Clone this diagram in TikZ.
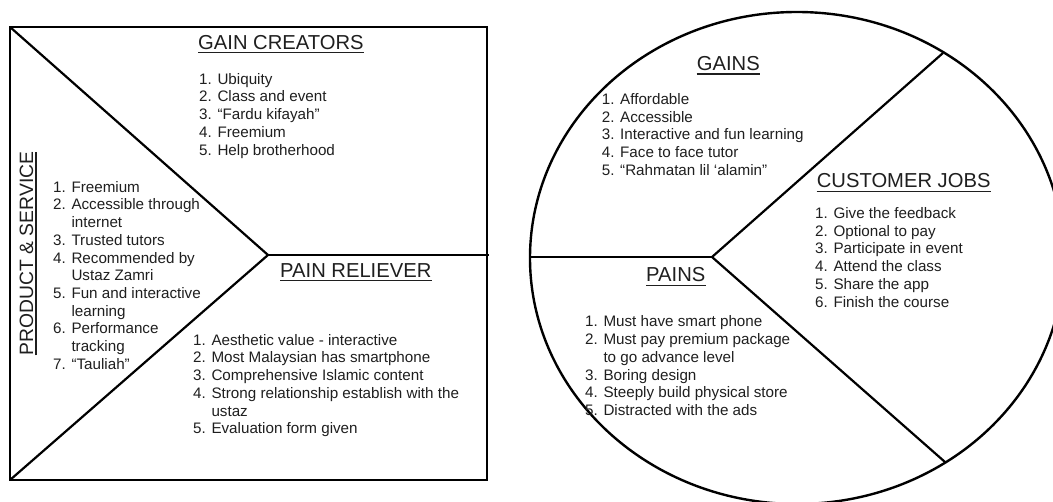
\documentclass[tikz,border=0pt]{standalone}
\usepackage{fontspec}
\setmainfont{Liberation Sans}
\definecolor{ink}{gray}{0.12}
% one list per block: the first row's baseline is the node's base
\newcommand\blist[1]{\begin{tabular}[t]{@{}l@{}}#1\end{tabular}}
% continuation line of a numbered item, indented past the number
\newcommand\contline[1]{\phantom{0. }#1}
\tikzset{
  head/.style={font=\fontsize{20.2}{24}\selectfont, anchor=base west, inner sep=0pt, text=ink},
  listtext/.style={font=\fontsize{15.2}{17.7}\selectfont, anchor=base west, inner sep=0pt, text=ink},
  outline/.style={line width=2.4pt, draw=black, line join=miter},
  divider/.style={line width=2.2pt, draw=black},
  uline/.style={line width=1.2pt, draw=ink},
}
\begin{document}
\begin{tikzpicture}[x=1pt, y=-1pt]
\clip (0,0) rectangle (1053,502);
\fill[white] (0,0) rectangle (1053,502);

% ---------------- value map (square) ----------------
\coordinate (tl) at (10,27);
\coordinate (tr) at (487,27);
\coordinate (br) at (487,480);
\coordinate (bl) at (10,480);
\coordinate (apex) at (268,255);
\coordinate (redge) at (489,255);
\draw[outline] (tl) -- (tr) -- (br) -- (bl) -- cycle;
\draw[divider] (tl) -- (apex) -- (bl);
\draw[divider] (apex) -- (redge);

\node[head] (gc) at (198,49.5) {GAIN CREATORS};
\draw[uline] ([yshift=-3pt]gc.base west) -- ([yshift=-3pt]gc.base east);
\node[listtext] (gclist) at (199,84.3) {\blist{
  1. Ubiquity\\
  2. Class and event\\
  3. “Fardu kifayah”\\
  4. Freemium\\
  5. Help brotherhood}};

\node[head, font=\fontsize{19.3}{23}\selectfont, rotate=90, anchor=base] (ps) at (33,253.5) {PRODUCT \& SERVICE};
\draw[uline] ([xshift=3pt]ps.base west) -- ([xshift=3pt]ps.base east);
\node[listtext] (pslist) at (53,192.3) {\blist{
  1. Freemium\\
  2. Accessible through\\
  \contline{internet}\\
  3. Trusted tutors\\
  4. Recommended by\\
  \contline{Ustaz Zamri}\\
  5. Fun and interactive\\
  \contline{learning}\\
  6. Performance\\
  \contline{tracking}\\
  7. “Tauliah”}};

\node[head] (pr) at (280,277.3) {PAIN RELIEVER};
\draw[uline] ([yshift=-3.5pt]pr.base west) -- ([yshift=-3.5pt]pr.base east);
\node[listtext] (prlist) at (193,345.3) {\blist{
  1. Aesthetic value - interactive\\
  2. Most Malaysian has smartphone\\
  3. Comprehensive Islamic content\\
  4. Strong relationship establish with the\\
  \contline{ustaz}\\
  5. Evaluation form given}};

% ---------------- customer profile (circle) ----------------
\coordinate (cc) at (797,258);
\coordinate (hub) at (712,257);
\coordinate (cleft) at (530,257);
\coordinate (cup) at (943,53);
\coordinate (cdown) at (945,462);
\draw[outline] (cc) ellipse [x radius=267, y radius=246];
\draw[divider] (cleft) -- (hub);
\draw[divider] (cup) -- (hub) -- (cdown);

\node[head] (ga) at (696.7,71) {GAINS};
\draw[uline] ([yshift=-3pt]ga.base west) -- ([yshift=-3pt]ga.base east);
\node[listtext] (galist) at (601.7,104.6) {\blist{
  1. Affordable\\
  2. Accessible\\
  3. Interactive and fun learning\\
  4. Face to face tutor\\
  5. “Rahmatan lil ‘alamin”}};

\node[head] (cj) at (816.7,187.7) {CUSTOMER JOBS};
\draw[uline] ([yshift=-3.5pt]cj.base west) -- ([yshift=-3.5pt]cj.base east);
\node[listtext] (cjlist) at (815,218.6) {\blist{
  1. Give the feedback\\
  2. Optional to pay\\
  3. Participate in event\\
  4. Attend the class\\
  5. Share the app\\
  6. Finish the course}};

\node[head] (pa) at (646,281.7) {PAINS};
\draw[uline] ([yshift=-3.5pt]pa.base west) -- ([yshift=-3.5pt]pa.base east);
\node[listtext] (palist) at (585,327) {\blist{
  1. Must have smart phone\\
  2. Must pay premium package\\
  \contline{to go advance level}\\
  3. Boring design\\
  4. Steeply build physical store\\
  5. Distracted with the ads}};
\end{tikzpicture}
\end{document}
